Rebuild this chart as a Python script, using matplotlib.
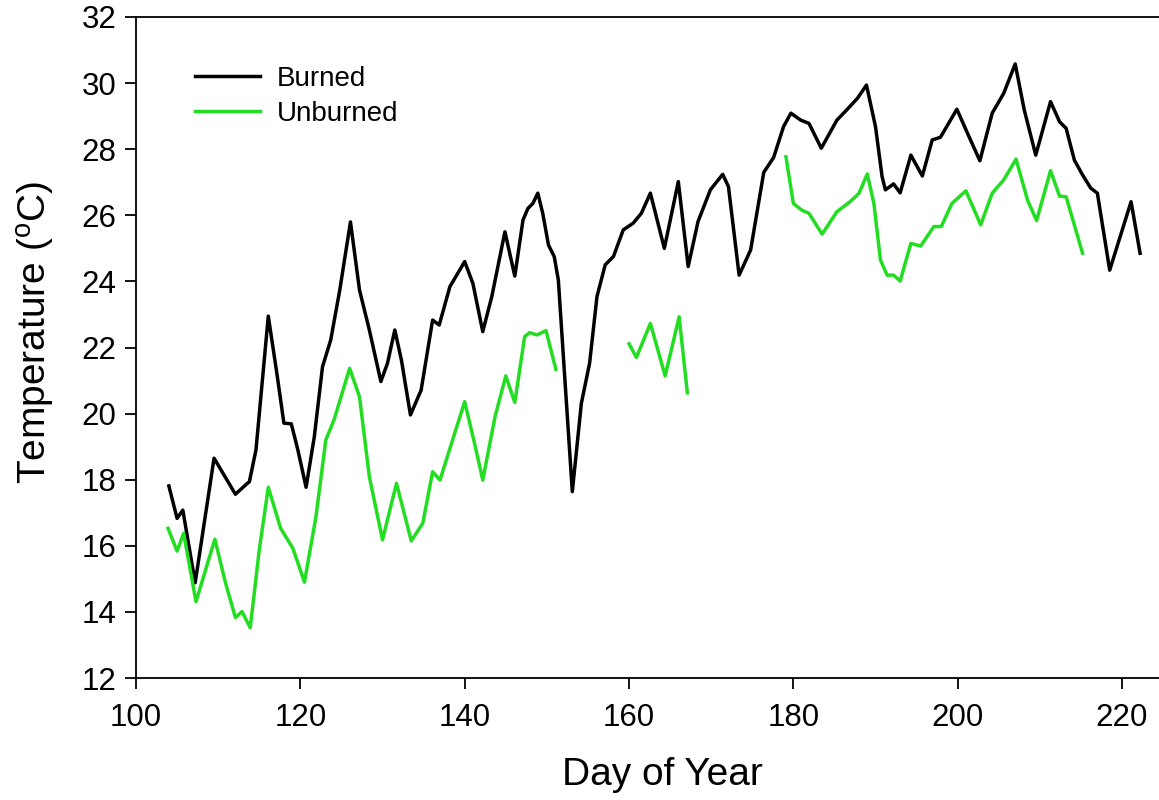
import matplotlib
matplotlib.use('Agg')
import matplotlib.pyplot as plt
import numpy as np

plt.rcParams['font.family'] = ['Liberation Sans', 'DejaVu Sans']
plt.rcParams['mathtext.fontset'] = 'custom'
plt.rcParams['mathtext.rm'] = 'Liberation Sans'

# Burned site, daily mean temperature
burned_day = [104.0, 105.0, 105.7, 107.2, 109.5, 112.1, 113.2, 113.8, 114.6, 116.1,
              117.2, 118.0, 118.9, 119.7, 120.7, 121.7, 122.7, 123.7, 124.8, 126.1,
              127.2, 128.4, 129.8, 130.6, 131.5, 132.3, 133.4, 134.7, 136.1, 136.9,
              138.2, 140.0, 141.0, 142.2, 143.3, 144.9, 146.1, 147.1, 147.7, 148.3,
              148.9, 149.5, 150.2, 150.9, 151.4, 152.2, 153.1, 154.2, 155.2, 156.1,
              157.1, 158.1, 159.3, 160.5, 161.5, 162.6, 164.3, 166.0, 167.2, 168.4,
              169.9, 171.4, 172.1, 173.4, 174.8, 176.4, 177.6, 178.8, 179.7, 180.9,
              181.9, 183.4, 185.3, 186.5, 187.8, 188.9, 190.0, 190.8, 191.2, 192.2,
              193.0, 194.3, 195.7, 196.9, 197.9, 199.9, 201.2, 202.7, 204.2, 205.6,
              207.0, 208.1, 209.5, 211.3, 212.4, 213.2, 214.2, 215.2, 216.2, 217.0,
              218.5, 221.1, 222.2]
burned_temp = [17.81, 16.83, 17.08, 14.88, 18.65, 17.56, 17.81, 17.94, 18.90, 22.95,
               21.12, 19.71, 19.69, 18.90, 17.77, 19.30, 21.42, 22.23, 23.74, 25.80,
               23.74, 22.53, 20.97, 21.52, 22.53, 21.62, 19.96, 20.71, 22.83, 22.68,
               23.84, 24.60, 23.94, 22.48, 23.54, 25.50, 24.16, 25.86, 26.21, 26.36,
               26.67, 26.06, 25.10, 24.75, 24.04, 21.02, 17.64, 20.31, 21.52, 23.54,
               24.50, 24.75, 25.56, 25.76, 26.06, 26.67, 25.00, 27.02, 24.45, 25.81,
               26.77, 27.24, 26.87, 24.19, 24.95, 27.30, 27.75, 28.68, 29.09, 28.88,
               28.78, 28.03, 28.88, 29.19, 29.54, 29.94, 28.68, 27.17, 26.77, 26.95,
               26.68, 27.82, 27.19, 28.28, 28.36, 29.21, 28.48, 27.65, 29.09, 29.69,
               30.58, 29.19, 27.82, 29.44, 28.83, 28.63, 27.67, 27.22, 26.82, 26.67,
               24.34, 26.41, 24.85]

# Unburned site, three recorded periods
unburned_day_1 = [103.9, 105.0, 105.8, 107.3, 109.6, 110.9, 112.1, 112.9, 113.9, 115.0,
                  116.1, 117.6, 119.1, 120.5, 121.9, 123.1, 124.1, 126.0, 127.2, 128.4,
                  130.0, 131.7, 133.5, 134.9, 136.1, 137.0, 138.4, 140.0, 141.2, 142.2,
                  143.7, 145.0, 146.1, 147.3, 147.9, 148.8, 149.9, 151.1]
unburned_temp_1 = [16.53, 15.84, 16.38, 14.31, 16.20, 14.87, 13.83, 14.01, 13.52, 15.87,
                   17.77, 16.53, 15.92, 14.90, 16.88, 19.20, 19.81, 21.37, 20.51, 18.09,
                   16.18, 17.89, 16.15, 16.68, 18.24, 17.99, 19.10, 20.36, 19.10, 17.99,
                   19.91, 21.14, 20.34, 22.33, 22.45, 22.38, 22.51, 21.34]
unburned_day_2 = [160.0, 160.9, 162.6, 164.4, 166.1, 167.1]
unburned_temp_2 = [22.11, 21.70, 22.73, 21.14, 22.93, 20.63]
unburned_day_3 = [179.1, 180.0, 181.0, 181.9, 183.5, 185.3, 186.9, 188.0, 189.0, 189.8,
                  190.6, 191.4, 192.2, 193.0, 194.3, 195.5, 197.1, 198.0, 199.3, 201.0,
                  202.8, 204.2, 205.6, 207.1, 208.5, 209.6, 211.3, 212.4, 213.2, 215.2]
unburned_temp_3 = [27.77, 26.36, 26.16, 26.06, 25.43, 26.11, 26.41, 26.67, 27.25, 26.36,
                   24.65, 24.19, 24.19, 24.01, 25.15, 25.07, 25.66, 25.66, 26.36, 26.74,
                   25.71, 26.67, 27.07, 27.70, 26.46, 25.84, 27.35, 26.58, 26.56, 24.85]

BLACK = '#000000'
GREEN = '#22dd22'
LW = 2.5

fig = plt.figure(figsize=(11.59, 8.0), dpi=100)
ax = fig.add_axes([136 / 1159, 1 - 678 / 800, 1 - 136 / 1159, (678 - 17) / 800])

ax.plot(burned_day, burned_temp, color=BLACK, lw=LW, label='Burned',
        solid_joinstyle='round')
ax.plot(unburned_day_1, unburned_temp_1, color=GREEN, lw=LW, label='Unburned',
        solid_joinstyle='round')
ax.plot(unburned_day_2, unburned_temp_2, color=GREEN, lw=LW, solid_joinstyle='round')
ax.plot(unburned_day_3, unburned_temp_3, color=GREEN, lw=LW, solid_joinstyle='round')

ax.set_xlim(100, 224.5)
ax.set_ylim(12, 32)
ax.set_xticks(np.arange(100, 221, 20))
ax.set_yticks(np.arange(12, 33, 2))
ax.tick_params(direction='out', length=8, width=1.3, labelsize=22.5, pad=6)
ax.tick_params(axis='x', pad=10)
for side in ['left', 'bottom', 'top']:
    ax.spines[side].set_linewidth(1.3)
ax.spines['right'].set_visible(False)

ax.set_xlabel('Day of Year', fontsize=28, va='center')
ax.xaxis.set_label_coords((662 - 136) / 1023, -(775 - 678) / 661)
ax.set_ylabel(r'Temperature ($^{\mathrm{o}}$C)', fontsize=28, va='center')
ax.yaxis.set_label_coords((36 - 136) / 1023, 1 - (332 - 17) / 661)

ax.legend(loc='upper left', bbox_to_anchor=(195 / 1159, 1 - 66 / 800),
          bbox_transform=fig.transFigure, frameon=False, fontsize=20,
          handlelength=2.35, handletextpad=0.6, labelspacing=0.32,
          borderpad=0, borderaxespad=0)

fig.savefig('out.png', dpi=100, facecolor='white')
